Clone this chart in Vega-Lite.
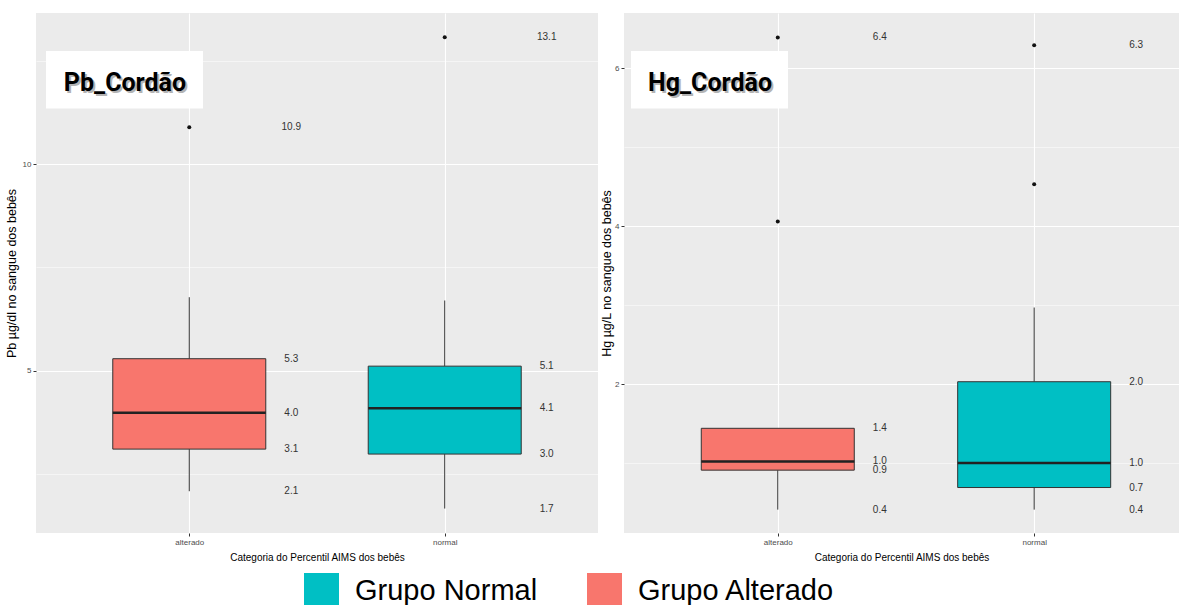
{
  "$schema": "https://vega.github.io/schema/vega-lite/v6.json",
  "padding": {"left": 5, "top": 13, "right": 0, "bottom": 0},
  "background": "white",
  "datasets": {
    "pb": [
      {"cat": "alterado", "grupo": "Grupo Alterado", "lo": 2.08, "q1": 3.10, "med": 3.98, "q3": 5.29, "hi": 6.78, "max": 10.9},
      {"cat": "normal", "grupo": "Grupo Normal", "lo": 1.66, "q1": 2.98, "med": 4.09, "q3": 5.11, "hi": 6.70, "max": 13.08}
    ],
    "pb_out": [
      {"cat": "alterado", "v": 10.9},
      {"cat": "normal", "v": 13.08}
    ],
    "hg": [
      {"cat": "alterado", "grupo": "Grupo Alterado", "lo": 0.41, "q1": 0.91, "med": 1.02, "q3": 1.44, "hi": 1.44, "max": 6.39},
      {"cat": "normal", "grupo": "Grupo Normal", "lo": 0.41, "q1": 0.69, "med": 1.0, "q3": 2.03, "hi": 2.97, "max": 6.29}
    ],
    "hg_out": [
      {"cat": "alterado", "v": 4.06},
      {"cat": "alterado", "v": 6.39},
      {"cat": "normal", "v": 4.53},
      {"cat": "normal", "v": 6.29}
    ],
    "pb_tag": [{"cat": "alterado", "label": "Pb_Cordão", "yc": 12.05, "yt": 11.78}],
    "hg_tag": [{"cat": "alterado", "label": "Hg_Cordão", "yc": 5.854, "yt": 5.709}]
  },
  "hconcat": [
    {
      "width": 562,
      "height": 520,
      "layer": [
        {
          "data": {"name": "pb"},
          "mark": {"type": "rule", "color": "#333333", "strokeWidth": 1},
          "encoding": {
            "x": {"field": "cat", "type": "nominal", "scale": {"type": "point", "padding": 0.6},
              "axis": {"title": "Categoria do Percentil AIMS dos bebês", "labelAngle": 0, "grid": true, "gridColor": "white", "gridWidth": 1.1, "domain": false, "tickSize": 3, "tickColor": "#333333", "labelFont": "Liberation Sans, sans-serif", "labelFontSize": 8, "labelColor": "#4D4D4D", "labelPadding": 2, "minExtent": 15, "maxExtent": 15, "titlePadding": 4, "titleFont": "Liberation Sans, sans-serif", "titleFontSize": 10, "titleFontWeight": "normal", "titleColor": "black"}},
            "y": {"field": "lo", "type": "quantitative", "scale": {"domain": [1.068, 13.665], "nice": false, "zero": false},
              "axis": {"title": "Pb µg/dl no sangue dos bebês", "values": [2.5, 5, 7.5, 10, 12.5], "labelExpr": "datum.value % 5 == 0 ? format(datum.value, 'd') : ''", "gridColor": "white", "gridWidth": {"condition": {"test": "datum.value % 5 == 0", "value": 1.1}, "value": 0.5}, "tickOpacity": {"condition": {"test": "datum.value % 5 == 0", "value": 1}, "value": 0}, "tickSize": 3, "tickColor": "#333333", "domain": false, "labelFont": "Liberation Sans, sans-serif", "labelFontSize": 8, "labelColor": "#4D4D4D", "labelPadding": 2, "minExtent": 14, "maxExtent": 14, "titlePadding": 4, "titleFont": "Liberation Sans, sans-serif", "titleFontSize": 12.5, "titleFontWeight": "normal", "titleColor": "black"}},
            "y2": {"field": "q1"}
          }
        },
        {
          "data": {"name": "pb"},
          "mark": {"type": "rule", "color": "#333333", "strokeWidth": 1},
          "encoding": {
            "x": {"field": "cat", "type": "nominal"},
            "y": {"field": "q3", "type": "quantitative"},
            "y2": {"field": "hi"}
          }
        },
        {
          "data": {"name": "pb"},
          "mark": {"type": "bar", "size": 153, "stroke": "#333333", "strokeWidth": 1},
          "encoding": {
            "x": {"field": "cat", "type": "nominal"},
            "y": {"field": "q1", "type": "quantitative"},
            "y2": {"field": "q3"},
            "color": {"field": "grupo", "type": "nominal", "scale": {"domain": ["Grupo Normal", "Grupo Alterado"], "range": ["#00BFC4", "#F8766D"]},
              "legend": {"title": null, "orient": "none", "legendX": 268, "legendY": 560, "direction": "horizontal", "symbolType": "square", "symbolSize": 1225, "symbolStrokeWidth": 0, "symbolOpacity": 1, "labelFontSize": 29, "labelFont": "Liberation Sans, Arial, sans-serif", "labelColor": "black", "labelOffset": 16, "columnPadding": 49, "padding": 0, "labelLimit": 400,
                "encode": {"symbols": {"update": {"fill": {"signal": "datum.value === 'Grupo Normal' ? '#00B5AD' : '#FF5458'"}}}}}}
          }
        },
        {
          "data": {"name": "pb"},
          "mark": {"type": "tick", "size": 153, "thickness": 2.5, "color": "#222222", "opacity": 1},
          "encoding": {
            "x": {"field": "cat", "type": "nominal"},
            "y": {"field": "med", "type": "quantitative"}
          }
        },
        {
          "data": {"name": "pb"},
          "transform": [{"fold": ["lo", "q1", "med", "q3", "max"], "as": ["stat", "val"]}],
          "mark": {"type": "text", "dx": 102, "align": "center", "baseline": "middle", "font": "Liberation Sans, sans-serif", "fontSize": 10, "color": "#333333"},
          "encoding": {
            "x": {"field": "cat", "type": "nominal"},
            "y": {"field": "val", "type": "quantitative"},
            "text": {"field": "val", "type": "quantitative", "format": ".1f"}
          }
        },
        {
          "data": {"name": "pb_out"},
          "mark": {"type": "circle", "size": 16, "color": "#111111", "opacity": 1},
          "encoding": {
            "x": {"field": "cat", "type": "nominal"},
            "y": {"field": "v", "type": "quantitative"}
          }
        },
        {
          "data": {"name": "pb_tag"},
          "mark": {"type": "point", "shape": "M-1,-0.366H1V0.366H-1Z", "size": 24649, "filled": true, "fill": "white", "opacity": 1, "strokeWidth": 0, "xOffset": -64.8},
          "encoding": {
            "x": {"field": "cat", "type": "nominal"},
            "y": {"field": "yc", "type": "quantitative"}
          }
        },
        {
          "data": {"name": "pb_tag"},
          "mark": {"type": "text", "align": "center", "baseline": "alphabetic", "dx": -62.3, "dy": 2, "font": "Roboto, Liberation Sans, sans-serif", "fontSize": 25, "fontWeight": "bold", "color": "#777777", "opacity": 0.55},
          "encoding": {
            "x": {"field": "cat", "type": "nominal"},
            "y": {"field": "yt", "type": "quantitative"},
            "text": {"field": "label"}
          }
        },
        {
          "data": {"name": "pb_tag"},
          "mark": {"type": "text", "align": "center", "baseline": "alphabetic", "dx": -64.3, "font": "Roboto, Liberation Sans, sans-serif", "fontSize": 25, "fontWeight": "bold", "color": "black"},
          "encoding": {
            "x": {"field": "cat", "type": "nominal"},
            "y": {"field": "yt", "type": "quantitative"},
            "text": {"field": "label"}
          }
        }
      ]
    },
    {
      "width": 555,
      "height": 520,
      "layer": [
        {
          "data": {"name": "hg"},
          "mark": {"type": "rule", "color": "#333333", "strokeWidth": 1},
          "encoding": {
            "x": {"field": "cat", "type": "nominal", "scale": {"type": "point", "padding": 0.5823, "align": 0.515},
              "axis": {"title": "Categoria do Percentil AIMS dos bebês", "labelAngle": 0, "grid": true, "gridColor": "white", "gridWidth": 1.1, "domain": false, "tickSize": 3, "tickColor": "#333333", "labelFont": "Liberation Sans, sans-serif", "labelFontSize": 8, "labelColor": "#4D4D4D", "labelPadding": 2, "minExtent": 15, "maxExtent": 15, "titlePadding": 4, "titleFont": "Liberation Sans, sans-serif", "titleFontSize": 10, "titleFontWeight": "normal", "titleColor": "black"}},
            "y": {"field": "lo", "type": "quantitative", "scale": {"domain": [0.114, 6.70], "nice": false, "zero": false},
              "axis": {"title": "Hg µg/L no sangue dos bebês", "values": [1, 2, 3, 4, 5, 6], "labelExpr": "datum.value % 2 == 0 ? format(datum.value, 'd') : ''", "gridColor": "white", "gridWidth": {"condition": {"test": "datum.value % 2 == 0", "value": 1.1}, "value": 0.5}, "tickOpacity": {"condition": {"test": "datum.value % 2 == 0", "value": 1}, "value": 0}, "tickSize": 3, "tickColor": "#333333", "domain": false, "labelFont": "Liberation Sans, sans-serif", "labelFontSize": 8, "labelColor": "#4D4D4D", "labelPadding": 2, "minExtent": 8, "maxExtent": 8, "titlePadding": 3, "titleFont": "Liberation Sans, sans-serif", "titleFontSize": 12.5, "titleFontWeight": "normal", "titleColor": "black"}},
            "y2": {"field": "q1"}
          }
        },
        {
          "data": {"name": "hg"},
          "mark": {"type": "rule", "color": "#333333", "strokeWidth": 1},
          "encoding": {
            "x": {"field": "cat", "type": "nominal"},
            "y": {"field": "q3", "type": "quantitative"},
            "y2": {"field": "hi"}
          }
        },
        {
          "data": {"name": "hg"},
          "mark": {"type": "bar", "size": 153, "stroke": "#333333", "strokeWidth": 1},
          "encoding": {
            "x": {"field": "cat", "type": "nominal"},
            "y": {"field": "q1", "type": "quantitative"},
            "y2": {"field": "q3"},
            "color": {"field": "grupo", "type": "nominal", "scale": {"domain": ["Grupo Normal", "Grupo Alterado"], "range": ["#00BFC4", "#F8766D"]},
              "legend": {"title": null, "orient": "none", "legendX": 268, "legendY": 560, "direction": "horizontal", "symbolType": "square", "symbolSize": 1225, "symbolStrokeWidth": 0, "symbolOpacity": 1, "labelFontSize": 29, "labelFont": "Liberation Sans, Arial, sans-serif", "labelColor": "black", "labelOffset": 16, "columnPadding": 49, "padding": 0, "labelLimit": 400,
                "encode": {"symbols": {"update": {"fill": {"signal": "datum.value === 'Grupo Normal' ? '#00B5AD' : '#FF5458'"}}}}}}
          }
        },
        {
          "data": {"name": "hg"},
          "mark": {"type": "tick", "size": 153, "thickness": 2.5, "color": "#222222", "opacity": 1},
          "encoding": {
            "x": {"field": "cat", "type": "nominal"},
            "y": {"field": "med", "type": "quantitative"}
          }
        },
        {
          "data": {"name": "hg"},
          "transform": [{"fold": ["lo", "q1", "med", "q3", "max"], "as": ["stat", "val"]}],
          "mark": {"type": "text", "dx": 102, "align": "center", "baseline": "middle", "font": "Liberation Sans, sans-serif", "fontSize": 10, "color": "#333333"},
          "encoding": {
            "x": {"field": "cat", "type": "nominal"},
            "y": {"field": "val", "type": "quantitative"},
            "text": {"field": "val", "type": "quantitative", "format": ".1f"}
          }
        },
        {
          "data": {"name": "hg_out"},
          "mark": {"type": "circle", "size": 16, "color": "#111111", "opacity": 1},
          "encoding": {
            "x": {"field": "cat", "type": "nominal"},
            "y": {"field": "v", "type": "quantitative"}
          }
        },
        {
          "data": {"name": "hg_tag"},
          "mark": {"type": "point", "shape": "M-1,-0.366H1V0.366H-1Z", "size": 24649, "filled": true, "fill": "white", "opacity": 1, "strokeWidth": 0, "xOffset": -68.3},
          "encoding": {
            "x": {"field": "cat", "type": "nominal"},
            "y": {"field": "yc", "type": "quantitative"}
          }
        },
        {
          "data": {"name": "hg_tag"},
          "mark": {"type": "text", "align": "center", "baseline": "alphabetic", "dx": -65.8, "dy": 2, "font": "Roboto, Liberation Sans, sans-serif", "fontSize": 25, "fontWeight": "bold", "color": "#777777", "opacity": 0.55},
          "encoding": {
            "x": {"field": "cat", "type": "nominal"},
            "y": {"field": "yt", "type": "quantitative"},
            "text": {"field": "label"}
          }
        },
        {
          "data": {"name": "hg_tag"},
          "mark": {"type": "text", "align": "center", "baseline": "alphabetic", "dx": -67.8, "font": "Roboto, Liberation Sans, sans-serif", "fontSize": 25, "fontWeight": "bold", "color": "black"},
          "encoding": {
            "x": {"field": "cat", "type": "nominal"},
            "y": {"field": "yt", "type": "quantitative"},
            "text": {"field": "label"}
          }
        }
      ]
    }
  ],
  "spacing": 26,
  "bounds": "flush",
  "resolve": {"scale": {"color": "shared"}, "legend": {"color": "shared"}},
  "config": {
    "view": {"fill": "#EBEBEB", "stroke": null}
  }
}
